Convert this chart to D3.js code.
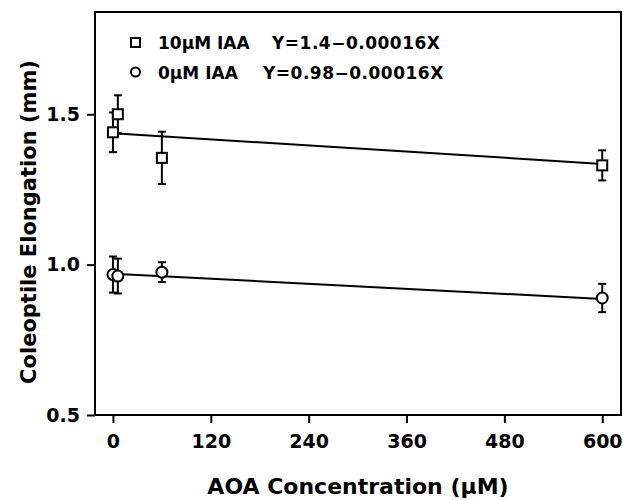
<!DOCTYPE html>
<html lang="en">
<head>
  <title>Coleoptile elongation</title>
  <style>
    body { margin: 0; background: #fff; }
    text { font-family: "DejaVu Sans", sans-serif; font-weight: bold; fill: #000; }
  </style>
</head>
<body>
  <script src="https://d3js.org/d3.v7.min.js"></script>
  <svg></svg>
  <script>

// concentrations of AOA (uM)
var conc = [0, 6, 60, 600];
// 10uM IAA series (squares)
var iaa10 = [1.44, 1.50, 1.355, 1.33];
var err10 = [0.066, 0.063, 0.087, 0.05];
// 0uM IAA series (circles)
var iaa0 = [0.967, 0.962, 0.975, 0.889];
var err0 = [0.06, 0.058, 0.033, 0.047];
// regression line ends at x = 0 and x = 600
var fitX = [0, 600];
var fit10 = [1.437, 1.335];
var fit0 = [0.970, 0.886];

var xTicks = [0, 120, 240, 360, 480, 600];
var yTicks = [0.5, 1.0, 1.5];
var legendLabels = ['10\u00b5M IAA', '0\u00b5M IAA'];
var legendEq = ['Y=1.4\u22120.00016X', 'Y=0.98\u22120.00016X'];

var width = 623, height = 500;
var margins = {top: 12, right: 2, bottom: 85, left: 95};

var svg = d3.select('svg')
            .attr('width', width)
            .attr('height', height);

var xScale = d3.scaleLinear().domain([-22, 623])
               .range([margins.left, width - margins.right]);
var yScale = d3.scaleLinear().domain([0.5, 1.84])
               .range([height - margins.bottom, margins.top]);

// frame
svg.append('rect')
   .attr('x', margins.left)
   .attr('y', margins.top)
   .attr('width', width - margins.right - margins.left)
   .attr('height', height - margins.bottom - margins.top)
   .attr('fill', 'none')
   .attr('stroke', '#000')
   .attr('stroke-width', 2);

// X axis
var gx = svg.append('g')
   .attr('transform', 'translate(0,' + (height - margins.bottom) + ')')
   .call(d3.axisBottom(xScale).tickValues(xTicks).tickSize(8).tickPadding(12).tickSizeOuter(0));
gx.select('.domain').remove();
gx.selectAll('line').attr('stroke-width', 2);
gx.selectAll('text').style('font-size', '19px');

// Y axis
var gy = svg.append('g')
   .attr('transform', 'translate(' + margins.left + ',0)')
   .call(d3.axisLeft(yScale).tickValues(yTicks).tickFormat(d3.format('.1f')).tickSize(8).tickPadding(7).tickSizeOuter(0));
gy.select('.domain').remove();
gy.selectAll('line').attr('stroke-width', 2);
gy.selectAll('text').style('font-size', '19px');

// axis titles
svg.append('text')
   .attr('x', 358)
   .attr('y', 494)
   .attr('text-anchor', 'middle')
   .style('font-size', '22px')
   .text('AOA Concentration (\u00b5M)');

svg.append('text')
   .attr('transform', 'translate(36,222) rotate(-90)')
   .attr('text-anchor', 'middle')
   .style('font-size', '21px')
   .text('Coleoptile Elongation (mm)');

// regression lines
var line = d3.line()
   .x(function(d) { return xScale(d[0]); })
   .y(function(d) { return yScale(d[1]); });

[fit10, fit0].forEach(function(f) {
  svg.append('path')
     .datum(d3.zip(fitX, f))
     .attr('d', line)
     .attr('fill', 'none')
     .attr('stroke', '#000')
     .attr('stroke-width', 2);
});

// error bars
function errorBars(vals, errs) {
  var g = svg.append('g').attr('stroke', '#000').attr('stroke-width', 2);
  conc.forEach(function(c, i) {
    var x = xScale(c), lo = yScale(vals[i] - errs[i]), hi = yScale(vals[i] + errs[i]);
    g.append('line').attr('x1', x).attr('x2', x).attr('y1', lo).attr('y2', hi);
    g.append('line').attr('x1', x - 4).attr('x2', x + 4).attr('y1', lo).attr('y2', lo);
    g.append('line').attr('x1', x - 4).attr('x2', x + 4).attr('y1', hi).attr('y2', hi);
  });
}
errorBars(iaa10, err10);
errorBars(iaa0, err0);

// markers
svg.append('g').selectAll('rect')
   .data(iaa10)
   .enter()
   .append('rect')
   .attr('x', function(d, i) { return xScale(conc[i]) - 5; })
   .attr('y', function(d) { return yScale(d) - 5; })
   .attr('width', 10)
   .attr('height', 10)
   .attr('fill', '#fff')
   .attr('stroke', '#000')
   .attr('stroke-width', 2);

svg.append('g').selectAll('circle')
   .data(iaa0)
   .enter()
   .append('circle')
   .attr('cx', function(d, i) { return xScale(conc[i]); })
   .attr('cy', function(d) { return yScale(d); })
   .attr('r', 5.5)
   .attr('fill', '#fff')
   .attr('stroke', '#000')
   .attr('stroke-width', 2);

// legend
var legend = svg.append('g');
legend.append('rect')
   .attr('x', 131).attr('y', 38).attr('width', 9).attr('height', 9)
   .attr('fill', '#fff').attr('stroke', '#000').attr('stroke-width', 2);
legend.append('circle')
   .attr('cx', 135.5).attr('cy', 72).attr('r', 4.5)
   .attr('fill', '#fff').attr('stroke', '#000').attr('stroke-width', 2);

legend.selectAll('text.lab')
   .data(legendLabels)
   .enter()
   .append('text')
   .attr('class', 'lab')
   .attr('x', 158)
   .attr('y', function(d, i) { return 49 + i * 30; })
   .style('font-size', '17px')
   .text(function(d) { return d; });

legend.selectAll('text.eq')
   .data(legendEq)
   .enter()
   .append('text')
   .attr('class', 'eq')
   .attr('x', function(d, i) { return i == 0 ? 272 : 263; })
   .attr('y', function(d, i) { return 49 + i * 30; })
   .style('font-size', '17px')
   .style('letter-spacing', '0.5px')
   .text(function(d) { return d; });

  </script>
</body>
</html>
